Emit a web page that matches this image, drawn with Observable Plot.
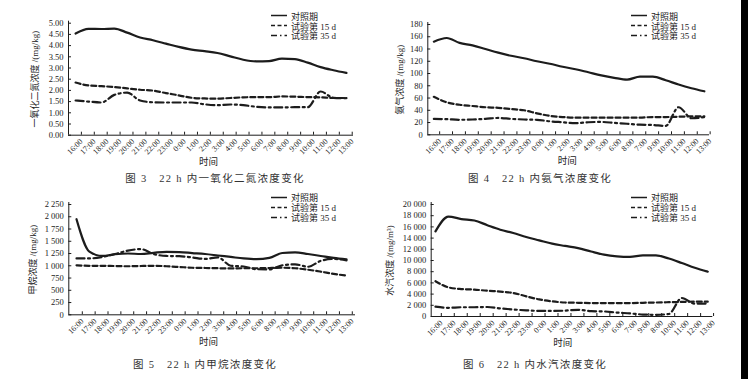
<!DOCTYPE html>
<html><head><meta charset="utf-8">
<script src="https://cdn.jsdelivr.net/npm/d3@7"></script>
<script src="https://cdn.jsdelivr.net/npm/@observablehq/plot@0.6"></script>
<style>
body{margin:0;background:#fff;}
#root{position:relative;width:748px;height:379px;overflow:hidden;background:#fff;font-family:"Liberation Serif","Noto Sans CJK SC",serif;color:#222;}
.panel{position:absolute;}
.cap{position:absolute;font-size:10.5px;letter-spacing:1.3px;white-space:pre;transform:translate(-50%,-50%);color:#333;}
.leg{position:absolute;font-size:9px;white-space:nowrap;display:flex;align-items:center;transform:translateY(-50%);color:#222;}
.leg svg{margin-right:4px;}
#edge{position:absolute;left:741px;top:0;width:7px;height:379px;background:#000;z-index:10;}
</style></head><body><div id="root"></div>
<script>
// ---- data ----
const seriesNames = ["对照期", "试验第 15 d", "试验第 35 d"];
const ticks3 = ["16:00","17:00","18:00","19:00","20:00","21:00","22:00","23:00","0:00","1:00","2:00","3:00","4:00","5:00","6:00","7:00","8:00","9:00","10:00","11:00","12:00","13:00"];
const ticks4 = ["16:00","17:00","18:00","19:00","20:00","21:00","22:00","23:00","0:00","1:00","2:00","3:00","4:00","5:00","6:00","8:00","7:00","9:00","10:00","11:00","12:00","13:00"];
const ticks5 = ["16:00","17:00","18:00","19:00","20:00","21:00","22:00","23:00","0:00","1:00","2:00","3:00","4:00","5:00","6:00","8:00","7:00","9:00","10:00","11:00","12:00","13:00"];
const ticks6 = ["16:00","17:00","18:00","19:00","20:00","21:00","22:00","23:00","0:00","1:00","2:00","3:00","4:00","5:00","6:00","7:00","9:00","8:00","10:00","11:00","12:00","13:00"];

const n2oControl = [4.54,4.75,4.74,4.76,4.58,4.36,4.24,4.09,3.94,3.82,3.75,3.67,3.52,3.37,3.30,3.31,3.42,3.40,3.24,3.04,2.90,2.78];
const n2oDay15   = [2.35,2.22,2.19,2.15,2.09,2.03,1.99,1.88,1.78,1.67,1.64,1.63,1.66,1.69,1.70,1.70,1.73,1.72,1.70,1.69,1.66,1.66];
const n2oDay35   = [1.55,1.50,1.46,1.80,1.90,1.55,1.47,1.46,1.46,1.46,1.38,1.34,1.37,1.34,1.27,1.24,1.24,1.25,1.25,1.95,1.67,1.65];

const nh3Control = [152,158,150,146,140,134,129,125,120,116,111,107,102,97,93,90,95,95,89,82,76,71];
const nh3Day15   = [62,53,49,47,45,44,42,40,35,31,29,28,28,28,28,28,28,29,29,29.5,30,30];
const nh3Day35   = [26,25.5,24.5,25,26,27.5,26,25,24.5,22,20.5,19,20.5,21,19.5,18,16.5,16,14.5,45,27,29];

const ch4Control = [1950,1290,1200,1235,1250,1240,1265,1285,1280,1260,1240,1210,1180,1150,1135,1160,1260,1275,1240,1200,1160,1130];
const ch4Day15   = [1010,1000,1000,995,990,995,1000,990,975,960,955,950,945,950,950,955,960,950,920,880,835,800];
const ch4Day35   = [1150,1150,1180,1240,1310,1340,1240,1200,1195,1170,1140,1170,1000,985,930,925,1010,1030,980,1100,1140,1110];

const h2oControl = [15200,17850,17400,17150,16300,15500,14900,14200,13600,13000,12600,12200,11600,11050,10750,10650,10900,10900,10350,9550,8700,8000];
const h2oDay15   = [6300,5200,4900,4800,4600,4450,4200,3600,3050,2700,2500,2450,2400,2400,2400,2400,2450,2500,2550,2600,2650,2650];
const h2oDay35   = [1750,1550,1650,1650,1700,1450,1250,1100,1000,1000,1050,1200,950,900,700,550,350,300,450,3300,2300,2300];

const captions = ["图 3   22 h 内一氧化二氮浓度变化", "图 4   22 h 内氨气浓度变化", "图 5   22 h 内甲烷浓度变化", "图 6   22 h 内水汽浓度变化"];
const yTitles = ["一氧化二氮浓度 /(mg/kg)", "氨气浓度 /(mg/kg)", "甲烷浓度 /(mg/kg)", "水汽浓度 /(mg/m³)"];
const xTitle = "时间";

// ---- drawing ----
const ink = "#1c1c1c";
const spaceFmt = d3.formatLocale({decimal: ".", thousands: " ", grouping: [3]}).format(",");
const dashes = [null, "5,3", "8,3.5,2,3.5"];
const legendDashes = [null, "4,2.5", "6,3,1.5,3"];
const root = document.getElementById("root");

function drawPanel(p) {
  const fw = p.w - p.ml - p.mr, fh = p.h - p.mt - p.mb;
  const unit = fw / (p.xDom[1] - p.xDom[0]);
  const idx = d3.range(p.labels.length);
  const rows = [];
  seriesNames.forEach((s, k) => p.series[k].forEach((v, i) => rows.push({i, v, s})));
  const yTicks = d3.range(0, p.yMax + p.yStep / 2, p.yStep);
  const lines = seriesNames.map((s, k) => Plot.line(rows.filter(r => r.s === s), {
    x: "i", y: "v", stroke: ink, strokeWidth: 2.2, strokeDasharray: dashes[k], curve: "monotone-x"
  }));
  const chart = Plot.plot({
    width: p.w, height: p.h,
    marginLeft: p.ml, marginRight: p.mr, marginTop: p.mt, marginBottom: p.mb,
    x: {domain: p.xDom},
    y: {domain: [0, p.yMax]},
    style: {fontFamily: '"Liberation Serif","Noto Sans CJK SC",serif', fontSize: "8.5px", color: "#222", background: "transparent", overflow: "visible"},
    marks: [
      Plot.ruleY([0], {stroke: ink, strokeWidth: 1}),
      Plot.ruleX([p.xDom[0]], {stroke: ink, strokeWidth: 1, insetTop: -2}),
      Plot.ruleX(idx, {x: d => d, dx: 0.45 * unit, insetTop: fh - 3, stroke: ink}),
      Plot.ruleY(yTicks, {y: d => d, insetRight: fw - 3, stroke: ink}),
      Plot.axisY(yTicks, {tickSize: 0, tickPadding: 5, tickFormat: p.yFmt, fontSize: 8.5, label: null}),
      Plot.axisX(idx, {tickSize: 0, tickRotate: -45, tickPadding: 5, dx: 0.45 * unit, tickFormat: d => p.labels[d], fontSize: 8, label: null}),
      ...lines,
      Plot.text([p.yTitle], {frameAnchor: "left", textAnchor: "middle", rotate: -90, dx: p.titleDx, fontSize: 9, fill: "#222"}),
      Plot.text([xTitle], {frameAnchor: "bottom", textAnchor: "middle", dx: p.xt[0] - (p.ml + fw / 2), dy: p.xt[1] - (p.h - p.mb), fontSize: 9.5, fill: "#222"})
    ]
  });
  const box = document.createElement("div");
  box.className = "panel";
  box.style.left = p.left + "px"; box.style.top = p.top + "px";
  box.appendChild(chart);
  root.appendChild(box);

  seriesNames.forEach((s, k) => {
    const row = document.createElement("div");
    row.className = "leg";
    row.style.left = (p.left + p.legX) + "px";
    row.style.top = (p.top + p.legY[k]) + "px";
    const da = legendDashes[k] ? ` stroke-dasharray="${legendDashes[k]}"` : "";
    row.innerHTML = `<svg width="16" height="4"><line x1="0" y1="2" x2="16" y2="2" stroke="${ink}" stroke-width="1.6"${da}/></svg><span>${s}</span>`;
    root.appendChild(row);
  });
  const cap = document.createElement("div");
  cap.className = "cap";
  cap.style.left = (p.left + p.cap[0]) + "px";
  cap.style.top = (p.top + p.cap[1]) + "px";
  cap.textContent = p.caption;
  root.appendChild(cap);
}

drawPanel({left: 0, top: 0, w: 374, h: 190, ml: 68, mr: 21, mt: 22.7, mb: 55.3, xDom: [-0.55, 21.55],
  labels: ticks3, series: [n2oControl, n2oDay15, n2oDay35], yMax: 5, yStep: 0.5, yFmt: d3.format(".2f"),
  yTitle: yTitles[0], titleDx: -33, xt: [208, 164], legX: 271, legY: [15.7, 25.7, 35], cap: [215, 177], caption: captions[0]});
drawPanel({left: 374, top: 0, w: 374, h: 190, ml: 53.3, mr: 39, mt: 24, mb: 55.7, xDom: [-0.47, 21.4],
  labels: ticks4, series: [nh3Control, nh3Day15, nh3Day35], yMax: 180, yStep: 20, yFmt: d => String(d),
  yTitle: yTitles[1], titleDx: -28, xt: [192.7, 163], legX: 257, legY: [15.7, 25.7, 35], cap: [166, 177], caption: captions[1]});
drawPanel({left: 0, top: 190, w: 374, h: 189, ml: 68.3, mr: 19, mt: 14, mb: 64.7, xDom: [-0.6, 21.7],
  labels: ticks5, series: [ch4Control, ch4Day15, ch4Day35], yMax: 2250, yStep: 250, yFmt: spaceFmt,
  yTitle: yTitles[2], titleDx: -35.6, xt: [208, 154.3], legX: 271, legY: [7.3, 17.3, 27.3], cap: [205, 172.7], caption: captions[2]});
drawPanel({left: 374, top: 190, w: 374, h: 189, ml: 56.7, mr: 35.7, mt: 14, mb: 63, xDom: [-0.33, 21.39],
  labels: ticks6, series: [h2oControl, h2oDay15, h2oDay35], yMax: 20000, yStep: 2000, yFmt: spaceFmt,
  yTitle: yTitles[3], titleDx: -40.7, xt: [188.3, 155], legX: 257, legY: [7.3, 17.3, 27.3], cap: [161, 172.7], caption: captions[3]});

const edge = document.createElement("div");
edge.id = "edge";
root.appendChild(edge);
</script>
</body></html>
